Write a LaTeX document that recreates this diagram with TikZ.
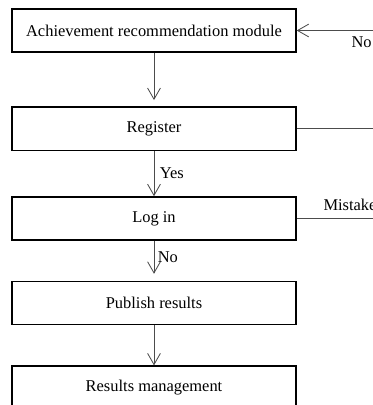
\documentclass[tikz,border=0pt]{standalone}
\usepackage{fontspec}
\setmainfont{Liberation Serif}
\usetikzlibrary{
    arrows.meta,
    positioning,
    calc
}
\tikzset{
    % --- Process step (plain rectangle) ---
    module block/.style = {
        rectangle, draw, line width=1pt,
        minimum width=7.1cm, minimum height=1.08cm,
        inner sep=0pt,
        font=\fontsize{11.7}{14}\selectfont
    },
    % --- Flow arrow between steps ---
    flow arrow/.style = {
        -{Straight Barb[length=2.8mm, width=3.2mm, line width=0.6pt]},
        draw=black!70, line width=0.6pt
    },
    % --- Return line on the right ---
    back line/.style = {
        draw=black!70, line width=0.6pt
    },
    % --- Branch label (Yes / No / Mistake) ---
    branch/.style = {
        font=\fontsize{11.7}{14}\selectfont,
        inner sep=1pt
    }
}

\begin{document}
\begin{tikzpicture}

% ---------------------------------------------------------
% Frame
% ---------------------------------------------------------
\useasboundingbox (0,0) rectangle (9.325,-10.125);
\clip (0,0) rectangle (9.325,-10.125);

% ---------------------------------------------------------
% Steps
% ---------------------------------------------------------
\node[module block] (Achieve) at (3.85,-0.7625) {Achievement recommendation module};
\node[module block, below=1.34cm of Achieve] (Register) {Register};
\node[module block, below=1.13cm of Register] (Login) {Log in};
\node[module block, below=1.0cm of Login] (Publish) {Publish results};
\node[module block, below=1.0cm of Publish] (ResMgmt) {Results management};

% ---------------------------------------------------------
% Main flow
% ---------------------------------------------------------
\draw[flow arrow, shorten >=4.5pt] (Achieve) -- (Register);
\draw[flow arrow] (Register) -- (Login)
    node[branch, midway, right=0.1cm] {Yes};
\draw[flow arrow, shorten >=5pt] (Login) -- (Publish)
    node[branch, pos=0.4, right=0.05cm] {No};
\draw[flow arrow] (Publish) -- (ResMgmt);

% ---------------------------------------------------------
% Return paths on the right edge
% ---------------------------------------------------------
\coordinate (AchieveEdge) at (9.325,0 |- Achieve);
\coordinate (RegisterEdge) at (9.325,0 |- Register);
\coordinate (LoginEdge) at (9.325,0 |- Login);

\draw[flow arrow] (AchieveEdge) -- (Achieve.east)
    node[branch, pos=0.02, below left=0.1cm and -0.05cm] {No};
\draw[back line] (Register.east) -- (RegisterEdge);
\draw[back line] (Login.east) -- (LoginEdge)
    node[branch, pos=0.38, above right=0.16cm and -0.1cm] {Mistake};

\end{tikzpicture}
\end{document}
